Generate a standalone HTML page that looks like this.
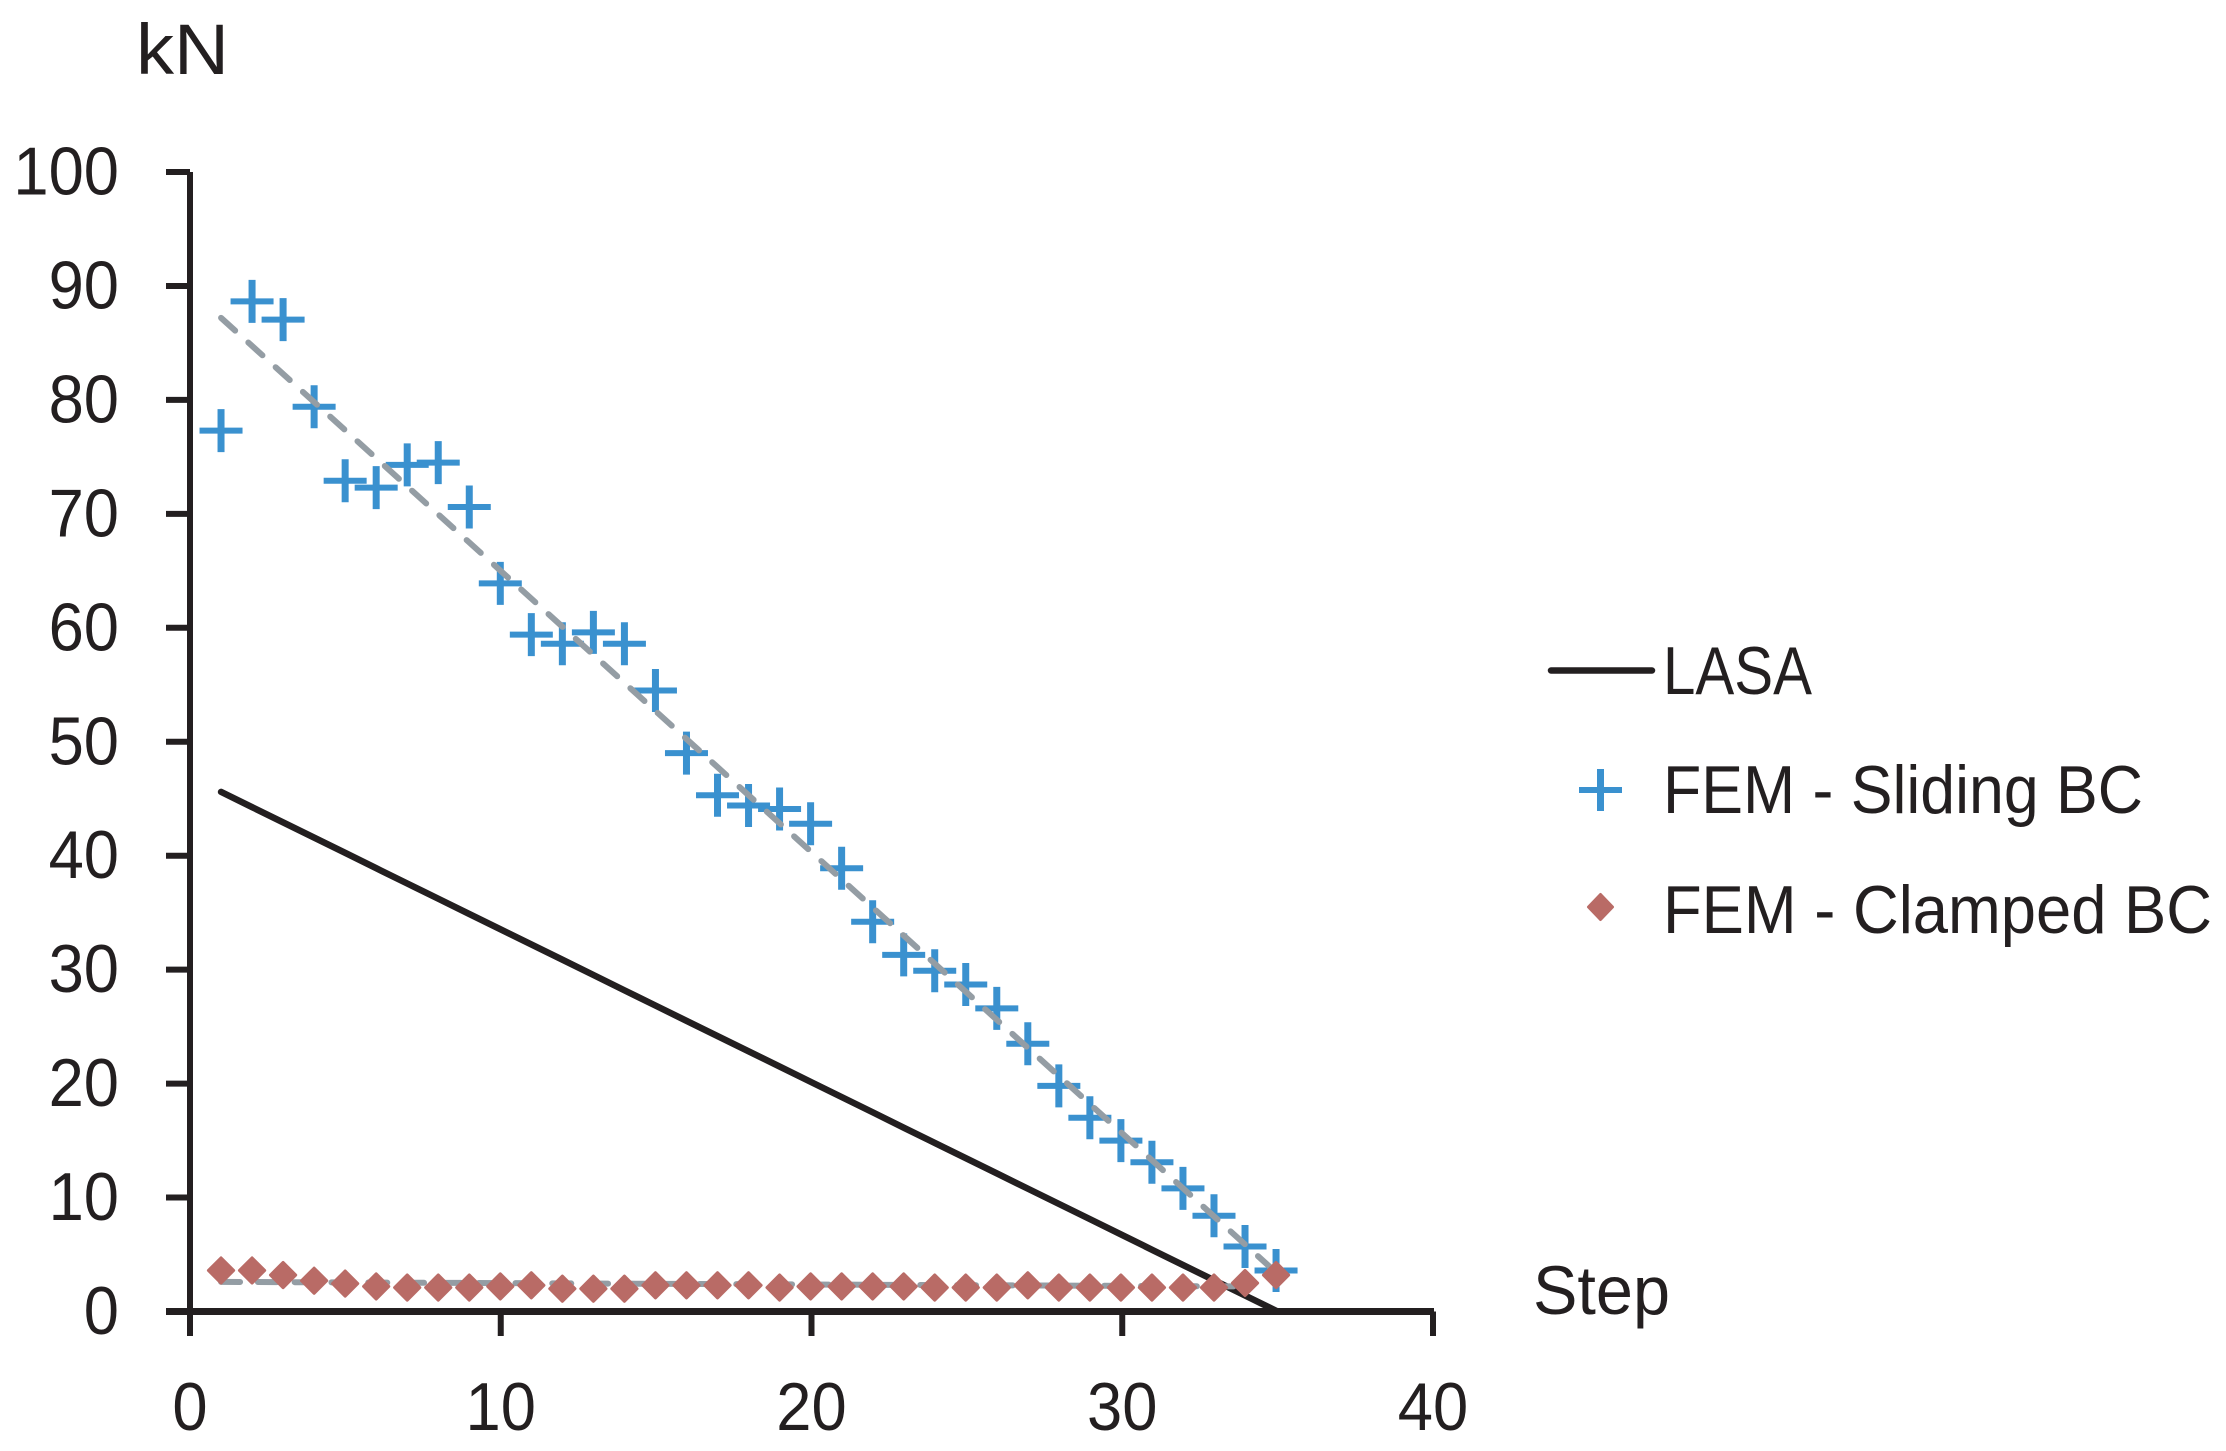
<!DOCTYPE html>
<html>
<head>
<meta charset="utf-8">
<title>kN vs Step chart</title>
<style>
html,body{margin:0;padding:0;background:#fff;width:2226px;height:1451px;overflow:hidden}
svg{display:block}
text{font-family:"Liberation Sans",sans-serif;fill:#231f20}
</style>
</head>
<body>
<svg id="chart" xmlns="http://www.w3.org/2000/svg" width="2226" height="1451" viewBox="0 0 2226 1451">
  <rect width="2226" height="1451" fill="#fff"/>
  <g id="marks"></g>
  <g id="axes"></g>
  <g id="top-marks"></g>
  <text x="136" y="74" font-size="71" textLength="93" lengthAdjust="spacingAndGlyphs">kN</text>
  <text x="1533" y="1314" font-size="69" textLength="137" lengthAdjust="spacingAndGlyphs">Step</text>
  <g>
    <g>
      <line x1="1551" y1="670.5" x2="1652" y2="670.5" stroke="#231f20" stroke-width="6.5" stroke-linecap="round"/>
      <text x="1663" y="694" font-size="68" textLength="149" lengthAdjust="spacingAndGlyphs">LASA</text>
    </g>
    <g>
      <path d="M1579 787H1622V793H1579ZM1597 769H1604V811H1597Z" fill="#3a91cf"/>
      <text x="1663" y="813" font-size="68" textLength="480" lengthAdjust="spacingAndGlyphs">FEM - Sliding BC</text>
    </g>
    <g>
      <path d="M1600.500 894.500L1612.500 907L1600.500 919.500L1588.500 907Z" fill="#b96b66" stroke="#b96b66" stroke-width="3" stroke-linejoin="round"/>
      <text x="1663" y="933" font-size="68" textLength="549" lengthAdjust="spacingAndGlyphs">FEM - Clamped BC</text>
    </g>
  </g>
</svg>
<script>
const steps = [1,2,3,4,5,6,7,8,9,10,11,12,13,14,15,16,17,18,19,20,21,22,23,24,25,26,27,28,29,30,31,32,33,34,35];
const lasaValues = [45.60,44.26,42.92,41.58,40.24,38.89,37.55,36.21,34.87,33.53,32.19,30.85,29.51,28.16,26.82,25.48,24.14,22.80,21.46,20.12,18.78,17.44,16.09,14.75,13.41,12.07,10.73,9.39,8.05,6.71,5.36,4.02,2.68,1.34,0];
const slidingValues = [77.3,88.65,87.05,79.4,72.9,72.3,74.3,74.5,70.6,63.9,59.4,58.6,59.6,58.6,54.5,49.0,45.3,44.4,44.1,42.8,38.9,34.2,31.3,29.9,28.7,26.6,23.5,19.8,17.0,15.0,13.1,10.8,8.4,5.7,3.6];
const clampedValues = [3.6,3.6,3.2,2.7,2.45,2.2,2.1,2.1,2.1,2.2,2.3,2.0,2.0,2.0,2.3,2.3,2.3,2.3,2.1,2.2,2.2,2.2,2.2,2.1,2.1,2.1,2.3,2.1,2.1,2.1,2.1,2.1,2.1,2.5,3.2];
const slidingTrendSteps = [1,35];
const slidingTrendValues = [87.2,3.3];
const clampedTrendSteps = [1,34];
const clampedTrendValues = [2.6,2.2];
const xTickLabels = [0,10,20,30,40];
const yTickLabels = [0,10,20,30,40,50,60,70,80,90,100];

const NS = 'http://www.w3.org/2000/svg';
const INK = '#231f20';
const xAxis = v => 190 + v * 31.075;
const yAxis = v => 1311.5 - v * 11.395;
const markerX = s => 190 + s * 31.03;
const marks = document.getElementById('marks');
const axes = document.getElementById('axes');
const topMarks = document.getElementById('top-marks');

function make(tag, parent) {
  const el = document.createElementNS(NS, tag);
  parent.appendChild(el);
  return el;
}
function polyPoints(xs, ys) {
  return xs.map((x, i) => xAxis(x).toFixed(2) + ',' + yAxis(ys[i]).toFixed(2)).join(' ');
}

// LASA line
const lasaLine = make('polyline', marks);


lasaLine.setAttribute('points', polyPoints(steps, lasaValues));
lasaLine.setAttribute('fill', 'none');
lasaLine.setAttribute('stroke', INK);
lasaLine.setAttribute('stroke-width', '6.5');
lasaLine.setAttribute('stroke-linecap', 'round');

// Sliding plus markers
steps.forEach((s, i) => {
  const px = markerX(s), py = yAxis(slidingValues[i]);
  const plus = make('path', marks);
  
  
  plus.setAttribute('d', 'M' + (px - 21.5) + ' ' + (py - 3) + 'h43v6h-43Z' + 'M' + (px - 3.5) + ' ' + (py - 21.5) + 'h7v43h-7Z');
  plus.setAttribute('fill', '#3a91cf');
});

// Dashed trend lines
const slidingTrend = make('polyline', marks);


slidingTrend.setAttribute('points', polyPoints(slidingTrendSteps, slidingTrendValues));
slidingTrend.setAttribute('fill', 'none');
slidingTrend.setAttribute('stroke', '#949da4');
slidingTrend.setAttribute('stroke-width', '6');
slidingTrend.setAttribute('stroke-linecap', 'round');
slidingTrend.setAttribute('stroke-dasharray', '19 17.8');

const clampedTrend = make('polyline', marks);


clampedTrend.setAttribute('points', polyPoints(clampedTrendSteps, clampedTrendValues));
clampedTrend.setAttribute('fill', 'none');
clampedTrend.setAttribute('stroke', '#949da4');
clampedTrend.setAttribute('stroke-width', '6');
clampedTrend.setAttribute('stroke-linecap', 'round');
clampedTrend.setAttribute('stroke-dasharray', '19 17.8');

// Axis lines
const yAxisLine = make('line', axes);


yAxisLine.setAttribute('x1', xAxis(0));
yAxisLine.setAttribute('x2', xAxis(0));
yAxisLine.setAttribute('y1', yAxis(100));
yAxisLine.setAttribute('y2', yAxis(0) + 24.5);
yAxisLine.setAttribute('stroke', INK);
yAxisLine.setAttribute('stroke-width', '6');

const xAxisLine = make('line', axes);


xAxisLine.setAttribute('x1', xAxis(0) - 24);
xAxisLine.setAttribute('x2', xAxis(40) + 1);
xAxisLine.setAttribute('y1', yAxis(0));
xAxisLine.setAttribute('y2', yAxis(0));
xAxisLine.setAttribute('stroke', INK);
xAxisLine.setAttribute('stroke-width', '7');

// Y ticks and labels
yTickLabels.forEach(v => {
  const tick = make('line', axes);
  
  
  tick.setAttribute('x1', xAxis(0) - 24);
  tick.setAttribute('x2', xAxis(0));
  tick.setAttribute('y1', yAxis(v));
  tick.setAttribute('y2', yAxis(v));
  tick.setAttribute('stroke', INK);
  tick.setAttribute('stroke-width', '6');
  const label = make('text', axes);
  
  
  const txt = String(v);
  const w = txt.length * 35.2;
  label.setAttribute('x', 119 - w);
  label.setAttribute('y', yAxis(v) + 22.5);
  label.setAttribute('font-size', '68');
  label.setAttribute('textLength', w);
  label.setAttribute('lengthAdjust', 'spacingAndGlyphs');
  label.textContent = txt;
});

// X ticks and labels
xTickLabels.forEach(v => {
  const tick = make('line', axes);
  
  
  tick.setAttribute('x1', xAxis(v));
  tick.setAttribute('x2', xAxis(v));
  tick.setAttribute('y1', yAxis(0));
  tick.setAttribute('y2', yAxis(0) + 24.5);
  tick.setAttribute('stroke', INK);
  tick.setAttribute('stroke-width', '6');
  const label = make('text', axes);
  
  
  const txt = String(v);
  const w = txt.length * 35.2;
  label.setAttribute('x', xAxis(v) - w / 2);
  label.setAttribute('y', 1430);
  label.setAttribute('font-size', '68');
  label.setAttribute('textLength', w);
  label.setAttribute('lengthAdjust', 'spacingAndGlyphs');
  label.textContent = txt;
});

// Clamped diamonds (on top of axes and trend lines)
steps.forEach((s, i) => {
  const px = markerX(s), py = yAxis(clampedValues[i]);
  const diamond = make('path', topMarks);
  
  
  diamond.setAttribute('d', 'M' + px + ' ' + (py - 12.6) + 'L' + (px + 12.6) + ' ' + py + 'L' + px + ' ' + (py + 12.6) + 'L' + (px - 12.6) + ' ' + py + 'Z');
  diamond.setAttribute('fill', '#b96b66');
  diamond.setAttribute('stroke', '#b96b66');
  diamond.setAttribute('stroke-width', '3');
  diamond.setAttribute('stroke-linejoin', 'round');
});
</script>
</body>
</html>
